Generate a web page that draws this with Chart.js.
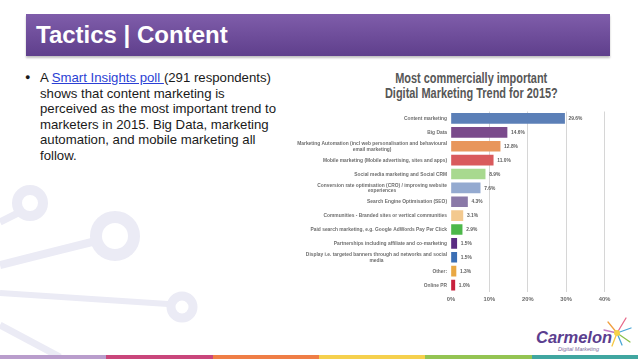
<!DOCTYPE html>
<html>
<head>
<meta charset="utf-8">
<script src="https://cdn.jsdelivr.net/npm/chart.js@4.4.1/dist/chart.umd.min.js"></script>
<style>
    body { margin: 0; width: 638px; height: 359px; overflow: hidden; background: #fff; position: relative; font-family: 'Liberation Sans', Arial, sans-serif; }
    #deco { position: absolute; left: 0; top: 0; }
    #header { position: absolute; left: 26px; top: 14px; width: 584px; height: 42px; background: linear-gradient(#7f5daa, #5f3f8c); box-shadow: 0 2px 2px rgba(0,0,0,0.25); }
    #header h1 { margin: 0; position: absolute; left: 10px; top: 7px; font-size: 24px; line-height: 28px; color: #fff; font-weight: bold; }
    #bullet { position: absolute; left: 25px; top: 70px; font-size: 13.2px; line-height: 15.5px; color: #1a1a1a; }
    #bullet .dot { position: absolute; left: 0; top: 0; font-size: 9px; }
    #bullet .txt { position: absolute; left: 15px; top: 0; white-space: nowrap; }
    #bullet a { color: #2b3fd4; text-decoration: underline; }
    #chartTitle { position: absolute; left: 300px; top: 70px; width: 342px; text-align: center; font-weight: bold; font-size: 15px; line-height: 15px; color: #575757; }
    #chartTitle span { display: inline-block; transform: scaleX(0.73); transform-origin: center; white-space: nowrap; }
    #wrap { position: absolute; left: 290px; top: 100px; width: 340px; height: 210px; }
    #logo { position: absolute; left: 536px; top: 328px; color: #5b3e8f; font-weight: bold; font-style: italic; font-size: 16.5px; line-height: 18px; }
    #logoSub { position: absolute; left: 558px; top: 346px; color: #7b6b9b; font-style: italic; font-size: 5.5px; }
    #strip { position: absolute; left: 0; top: 355px; width: 638px; height: 4px; display: flex; }
    #strip div { flex: 1; }
</style>
</head>
<body>
<svg id="deco" width="638" height="359">
    <g stroke="#ebebf5" fill="none">
        <line x1="0" y1="222" x2="18" y2="213" stroke-width="7"/>
        <circle cx="30" cy="203" r="13" stroke-width="10"/>
        <line x1="0" y1="265" x2="92" y2="242" stroke-width="8"/>
        <circle cx="115" cy="236" r="19" stroke-width="12"/>
        <line x1="0" y1="293" x2="168" y2="304" stroke-width="6"/>
        <circle cx="182" cy="307" r="11" stroke-width="9"/>
        <line x1="0" y1="325" x2="60" y2="357" stroke-width="7"/>
    </g>
    <g stroke-width="1.3" stroke-linecap="round">
        <line x1="617" y1="333" x2="626" y2="318" stroke="#e86a8a"/>
        <line x1="617" y1="333" x2="631" y2="328" stroke="#4aa6d8"/>
        <line x1="617" y1="333" x2="630" y2="342" stroke="#8cc04a"/>
        <line x1="617" y1="333" x2="608" y2="322" stroke="#f0a040"/>
        <line x1="617" y1="333" x2="604" y2="330" stroke="#c07ac0"/>
        <line x1="617" y1="333" x2="612" y2="346" stroke="#f5c842"/>
        <line x1="617" y1="333" x2="622" y2="345" stroke="#4aa6d8"/>
        <circle cx="617" cy="333" r="3" fill="#f5d24a" stroke="none"/>
    </g>
</svg>

<div id="header"><h1>Tactics | Content</h1></div>

<div id="bullet">
    <span class="dot">&#9679;</span>
    <div class="txt">A <a>Smart Insights poll </a>(291 respondents)<br>shows that content marketing is<br>perceived as the most important trend to<br>marketers in 2015. Big Data, marketing<br>automation, and mobile marketing all<br>follow.</div>
</div>

<div id="chartTitle"><span>Most commercially important</span><br><span>Digital Marketing Trend for 2015?</span></div>
<div id="wrap"><canvas id="trendChart" width="340" height="210"></canvas></div>

<div id="logo">Carmelon</div>
<div id="logoSub">Digital Marketing</div>

<div id="strip">
    <div style="background:#b99dcc"></div>
    <div style="background:#c9467b"></div>
    <div style="background:#ef7e46"></div>
    <div style="background:#f5d04d"></div>
    <div style="background:#94c453"></div>
    <div style="background:#40a6a0"></div>
</div>

<script>
// Chart data
const categories = [
    ['Content marketing'],
    ['Big Data'],
    ['Marketing Automation (incl web personalisation and behavioural', 'email marketing)'],
    ['Mobile marketing (Mobile advertising, sites and apps)'],
    ['Social media marketing and Social CRM'],
    ['Conversion rate optimisation (CRO) / improving website', 'experiences'],
    ['Search Engine Optimisation (SEO)'],
    ['Communities - Branded sites or vertical communities'],
    ['Paid search marketing, e.g. Google AdWords Pay Per Click'],
    ['Partnerships including affiliate and co-marketing'],
    ['Display i.e. targeted banners through ad networks and social', 'media'],
    ['Other:'],
    ['Online PR']
];
const shares = [29.6, 14.6, 12.8, 11.0, 8.9, 7.6, 4.3, 3.1, 2.9, 1.5, 1.5, 1.3, 1.0];
const barColours = ['#5b7fb7', '#7a4a8b', '#e8965c', '#d95a5c', '#a8d98f', '#94aad0', '#8a79a8',
    '#f3c98f', '#4db84a', '#5b2d83', '#3b6fb4', '#e9a843', '#c8213d'];
const xTicks = [0, 10, 20, 30, 40];

const squeeze = 0.8; // narrow look, no condensed font installed
const smallFont = "bold 6.1px 'Liberation Sans', Arial, sans-serif";

// draw text squeezed horizontally around its anchor
function narrowText(ctx, text, x, y, align) {
    ctx.save();
    ctx.translate(x, y);
    ctx.scale(squeeze, 1);
    ctx.textAlign = align;
    ctx.fillText(text, 0, 0);
    ctx.restore();
}

// Category labels: block right-aligned to the axis, lines centred in the block
const categoryLabels = {
    id: 'categoryLabels',
    afterDraw(chart) {
        const ctx = chart.ctx;
        const yScale = chart.scales.y;
        const right = chart.chartArea.left - 4;
        ctx.save();
        ctx.font = smallFont;
        ctx.fillStyle = '#6e6e6e';
        ctx.textBaseline = 'middle';
        categories.forEach((lines, i) => {
            const w = Math.max(...lines.map(l => ctx.measureText(l).width)) * squeeze;
            const cx = right - w / 2;
            const y = yScale.getPixelForValue(i);
            const lh = 5.5;
            lines.forEach((l, j) => {
                narrowText(ctx, l, cx, y + (j - (lines.length - 1) / 2) * lh, 'center');
            });
        });
        ctx.restore();
    }
};

// Value labels at the end of each bar
const valueLabels = {
    id: 'valueLabels',
    afterDatasetsDraw(chart) {
        const ctx = chart.ctx;
        const meta = chart.getDatasetMeta(0);
        ctx.save();
        ctx.font = smallFont;
        ctx.fillStyle = '#606060';
        ctx.textBaseline = 'middle';
        meta.data.forEach((bar, i) => {
            narrowText(ctx, shares[i].toFixed(1) + '%', bar.x + 4, bar.y, 'left');
        });
        ctx.restore();
    }
};

function initChart() {
    const ctx = document.getElementById('trendChart').getContext('2d');
    new Chart(ctx, {
        type: 'bar',
        data: {
            labels: categories.map(l => l.join(' ')),
            datasets: [{
                data: shares,
                backgroundColor: barColours,
                barThickness: 10
            }]
        },
        options: {
            indexAxis: 'y',
            responsive: false,
            animation: false,
            layout: { padding: { top: 11.5, right: 25.5, left: 0, bottom: 0 } },
            plugins: { legend: { display: false }, tooltip: { enabled: false } },
            scales: {
                x: {
                    min: 0,
                    max: 40,
                    afterBuildTicks: (scale) => { scale.ticks = xTicks.map(v => ({ value: v })); },
                    afterFit: (scale) => { scale.height = 18; },
                    border: { display: false },
                    grid: {
                        drawTicks: false,
                        color: (c) => c.tick && c.tick.value === 0 ? 'rgba(0,0,0,0)' : '#d6d6d6',
                        lineWidth: 1
                    },
                    ticks: {
                        padding: 4,
                        color: '#6a6a6a',
                        font: { family: "'Liberation Sans', Arial, sans-serif", size: 5.8, weight: 'bold' },
                        callback: (v) => v + '%'
                    }
                },
                y: {
                    afterFit: (scale) => { scale.width = 161; },
                    border: { display: false },
                    grid: { display: false },
                    ticks: { display: false }
                }
            }
        },
        plugins: [categoryLabels, valueLabels]
    });
}

document.addEventListener('DOMContentLoaded', () => {
    initChart();
});
</script>
</body>
</html>
